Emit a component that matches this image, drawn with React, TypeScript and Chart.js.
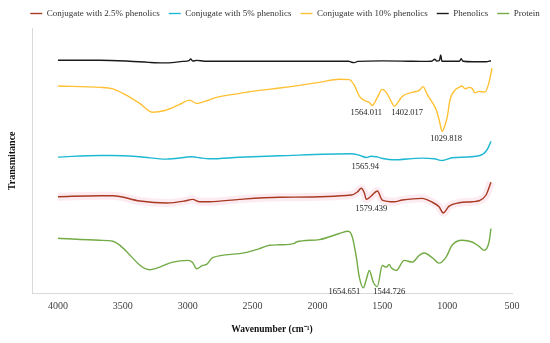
import { useEffect, useRef } from "react";
import { Chart, registerables } from "chart.js";

Chart.register(...registerables);

const FONT = "'Liberation Serif', 'Times New Roman', serif";

const seriesNames = [
  "Conjugate with 2.5% phenolics",
  "Conjugate with 5% phenolics",
  "Conjugate with 10% phenolics",
  "Phenolics",
  "Protein",
];
const seriesColors = ["#A83A22", "#1FB8D3", "#FFC133", "#1a1a1a", "#72AB45"];

const xTickLabels = [4000, 3500, 3000, 2500, 2000, 1500, 1000, 500];

// Conjugate with 2.5% phenolics
const conj25Wn = [4000, 3677, 3577, 3369, 3162, 3023, 2962, 2908, 2831, 2600, 2292, 1738, 1692, 1662, 1638, 1623, 1585, 1538, 1500, 1408, 1346, 1192, 1123, 1062, 1031, 985, 908, 808, 754, 700, 662];
const conj25T = [96.3, 97.3, 97.3, 92, 90, 92, 93.7, 91.3, 91.3, 93.7, 95.7, 98, 101, 104.7, 100, 93.7, 97, 102, 93, 91.3, 93, 94.7, 91.3, 86.3, 80.3, 87, 90.3, 91.3, 92.3, 98, 110.7];

// Conjugate with 5% phenolics
const conj5Wn = [4000, 3677, 3577, 3369, 3162, 2962, 2908, 2831, 2600, 2292, 1738, 1677, 1623, 1585, 1546, 1485, 1423, 1192, 1100, 1038, 962, 754, 692, 662];
const conj5T = [135.7, 137.3, 137.3, 136, 133.7, 136, 135, 134, 135.5, 137, 139, 137.5, 135.3, 136.5, 136, 134, 133, 134.7, 134, 132.3, 135, 137, 143, 151.3];

// Conjugate with 10% phenolics
const conj10Wn = [4000, 3677, 3577, 3485, 3369, 3269, 3177, 3062, 2985, 2931, 2869, 2777, 2600, 2446, 2292, 2138, 1985, 1831, 1754, 1715, 1677, 1638, 1600, 1577, 1538, 1500, 1469, 1431, 1408, 1369, 1346, 1269, 1215, 1185, 1154, 1115, 1085, 1062, 1038, 1015, 1000, 977, 946, 908, 885, 862, 831, 808, 785, 754, 708, 677, 654];
const conj10T = [206.3, 205, 203.5, 198, 189, 180.3, 182, 188, 192.3, 189, 191, 195, 199, 202, 204.3, 207, 210, 213, 212.7, 207, 196.3, 192, 190, 187, 195, 203, 200, 191, 186.3, 192, 196, 200, 202, 205.7, 198, 190, 183, 173, 161.3, 168, 175, 193, 201.3, 205, 206.3, 203.5, 205, 204, 199.7, 201, 200.3, 210, 224];

// Phenolics
const phenolicsWn = [4000, 3677, 3450, 3300, 3192, 3100, 3040, 2990, 2977, 2962, 2930, 2870, 2292, 1760, 1738, 1715, 1690, 1500, 1300, 1200, 1120, 1095, 1080, 1060, 1050, 1040, 1015, 905, 892, 878, 800, 700, 662];
const phenolicsT = [232, 232, 231, 229.8, 229.3, 229.8, 230.8, 231.5, 233.2, 231.2, 231.8, 231, 231, 231, 230, 229.6, 230.8, 231.3, 231, 230.8, 231, 233, 231.2, 231.5, 237.3, 231, 231, 231, 233.5, 231, 230.5, 230.5, 231.5];

// Protein
const proteinWn = [4000, 3677, 3577, 3292, 3115, 3000, 2962, 2931, 2885, 2854, 2808, 2600, 2446, 2369, 2292, 2177, 2162, 1985, 1831, 1762, 1731, 1700, 1677, 1646, 1623, 1600, 1569, 1538, 1500, 1469, 1446, 1431, 1392, 1331, 1269, 1215, 1177, 1115, 1062, 1008, 962, 885, 808, 754, 715, 677, 662];
const proteinT = [55, 53, 52, 23.7, 31.3, 33, 31, 24.7, 28, 29, 35.7, 39.7, 44.7, 48, 48.5, 50, 51.3, 53.7, 59.7, 62, 56.3, 36.3, 16.3, 5.7, 14, 23, 11.3, 7, 28, 26.3, 29, 25.7, 23, 33, 31.3, 38, 40.3, 35.7, 30.3, 36.3, 48, 53, 51.3, 47, 43, 51.3, 64.7];

// Peak annotations
const peakText = ["1564.011", "1402.017", "1029.818", "1565.94", "1579.439", "1654.651", "1544.726"];
const peakWn = [1623, 1308, 1008, 1631, 1585, 1792, 1446];
const peakT = [180, 180, 154, 126, 84, 2, 2];

const toPoints = (xs: number[], ys: number[]) => xs.map((x, i) => ({ x, y: ys[i] }));

const peakLabelPlugin = {
  id: "peakLabels",
  afterDatasetsDraw(chart: any) {
    const { ctx, scales } = chart;
    ctx.save();
    ctx.font = `8.5px ${FONT}`;
    ctx.fillStyle = "#222";
    ctx.textAlign = "center";
    ctx.textBaseline = "middle";
    peakText.forEach((t, i) => {
      ctx.fillText(t, scales.x.getPixelForValue(peakWn[i]), scales.y.getPixelForValue(peakT[i]));
    });
    ctx.restore();
  },
};

export default function App() {
  const ref = useRef<HTMLCanvasElement>(null);
  useEffect(() => {
    const seriesData = [
      toPoints(conj25Wn, conj25T),
      toPoints(conj5Wn, conj5T),
      toPoints(conj10Wn, conj10T),
      toPoints(phenolicsWn, phenolicsT),
      toPoints(proteinWn, proteinT),
    ];
    const datasets: any[] = seriesNames.map((name, i) => ({
      label: name,
      data: seriesData[i],
      borderColor: seriesColors[i],
      backgroundColor: seriesColors[i],
      borderWidth: 1.4,
      pointRadius: 0,
      cubicInterpolationMode: "monotone",
      fill: false,
    }));
    // soft pink halo behind the 2.5% trace
    datasets.push({
      label: "",
      data: seriesData[0],
      borderColor: "rgba(250, 205, 222, 0.4)",
      borderWidth: 8,
      pointRadius: 0,
      cubicInterpolationMode: "monotone",
      fill: false,
    });
    const chart = new Chart(ref.current!, {
      type: "line",
      data: { datasets },
      plugins: [peakLabelPlugin],
      options: {
        responsive: false,
        animation: false,
        layout: { padding: { top: 0, right: 0, bottom: 0, left: 20 } },
        plugins: {
          tooltip: { enabled: false },
          legend: {
            position: "top",
            labels: {
              usePointStyle: true,
              pointStyle: "line",
              pointStyleWidth: 12,
              padding: 9,
              color: "#333",
              font: { family: FONT, size: 9 },
              filter: (item: any) => item.datasetIndex < 5,
            },
          },
        },
        scales: {
          x: {
            type: "linear",
            reverse: true,
            min: 500,
            max: 4200,
            afterBuildTicks: (scale: any) => {
              scale.ticks = xTickLabels.map((v) => ({ value: v }));
            },
            grid: { display: false, drawTicks: false },
            border: { display: true, color: "#d9d9d9" },
            ticks: {
              padding: 7,
              color: "#404040",
              font: { family: FONT, size: 10 },
              maxRotation: 0,
              autoSkip: false,
              callback: (v: any) => String(v),
            },
            title: {
              display: true,
              text: "Wavenumber (cm⁻¹)",
              color: "#111",
              font: { family: FONT, size: 9.5, weight: "bold" },
              padding: { top: 4, bottom: 8 },
            },
          },
          y: {
            type: "linear",
            min: 0,
            max: 264,
            grid: { display: false, drawTicks: false },
            border: { display: true, color: "#d9d9d9" },
            ticks: { display: false },
            title: {
              display: true,
              text: "Transmitance",
              color: "#111",
              font: { family: FONT, size: 10, weight: "bold" },
              padding: { top: -14, bottom: 14 },
            },
          },
          yr: {
            type: "linear",
            position: "right",
            grid: { display: false, drawTicks: false },
            border: { display: false },
            ticks: { display: false },
            afterFit: (scale: any) => {
              scale.width = 38;
            },
          },
        },
      },
    });
    return () => chart.destroy();
  }, []);
  return (
    <div style={{ position: "fixed", left: 0, top: 0, width: 550, height: 343, background: "#fff" }}>
      <canvas ref={ref} width={550} height={343} style={{ display: "block" }} />
    </div>
  );
}
